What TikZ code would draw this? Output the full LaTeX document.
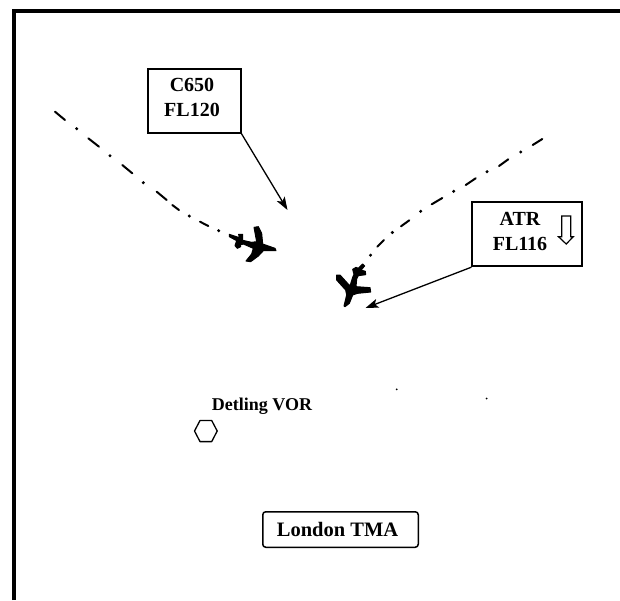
\documentclass[tikz,border=0pt]{standalone}
\usepackage{fontspec}
\setmainfont{Liberation Serif}
\usetikzlibrary{arrows.meta}
\tikzset{
  x=1pt,y=-1pt,
  callout/.style={draw=black,line width=1.7pt,rectangle,minimum width=#1,inner sep=0pt},
  boxlabel/.style={inner sep=0pt,align=center,font=\fontsize{20}{25}\selectfont\bfseries},
  pointer/.style={line width=1.3pt,-{Stealth[length=13pt,width=9pt,inset=3pt]}},
  trackdash/.style={line width=2pt,line cap=round},
  plane/.style={fill=black,draw=black,line width=1pt,line join=round},
}
\newcommand{\zmA}[2]{({180+#1/3},{180+#2/3})}
\begin{document}
\begin{tikzpicture}
\useasboundingbox (0,0) rectangle (620,600);
\fill[white] (0,0) rectangle (620,600);
% frame
\draw[line width=3.4pt,line cap=butt] (14,600) -- (14,11) -- (620,11);
% tracks: dashes
\foreach \a/\b/\c/\d in {55/111.7/65/120, 88.3/138.3/99/146.7, 122.3/165/132.3/173.3, 156.7/191.7/166.7/200, 172.3/205/179/210, 200/221.7/208.3/226,
  532.7/145/542.3/139, 499/166/508.3/159.3, 465.7/185/475.7/178.3, 431.7/204.3/442.3/198, 401/226.3/409.3/220.3, 377.3/246.7/384/240}
  \draw[trackdash] (\a,\b) -- (\c,\d);
% tracks: dots
\foreach \a/\b in {76.7/128.7, 110/155.7, 143.3/182.7, 189.3/216, 218.7/230.7,
  520.7/152, 487/171.7, 453.7/191.3, 420.7/211.3, 392.3/232.5, 370.5/255.2}
  \fill (\a,\b) circle (1.7pt);
% specks
\fill (396.7,389.3) circle (1pt);
\fill (486.7,398.5) circle (1pt);
% plane 1
\draw[plane] \zmA{148}{163} -- \zmA{178}{173} -- \zmA{176}{163} -- \zmA{188}{163} -- \zmA{188}{181} -- \zmA{215}{187} -- \zmA{230}{185} -- \zmA{222}{142} -- \zmA{235}{140} -- \zmA{245}{160} -- \zmA{248}{192} -- \zmA{285}{205} -- \zmA{288}{212} -- \zmA{250}{212} -- \zmA{235}{228} -- \zmA{212}{245} -- \zmA{198}{243} -- \zmA{215}{222} -- \zmA{220}{205} -- \zmA{190}{192} -- \zmA{180}{195} -- \zmA{182}{200} -- \zmA{172}{205} -- \zmA{165}{197} -- \zmA{170}{182} -- \zmA{148}{170} -- cycle;
% plane 2
\draw[plane] \zmA{548}{252} -- \zmA{554}{258} -- \zmA{543}{270} -- \zmA{556}{274} -- \zmA{557}{284} -- \zmA{535}{287} -- \zmA{530}{297} -- \zmA{528}{320} -- \zmA{570}{323} -- \zmA{572}{336} -- \zmA{532}{340} -- \zmA{518}{345} -- \zmA{508}{370} -- \zmA{495}{380} -- \zmA{492}{378} -- \zmA{500}{345} -- \zmA{497}{330} -- \zmA{470}{300} -- \zmA{470}{285} -- \zmA{480}{285} -- \zmA{510}{318} -- \zmA{518}{292} -- \zmA{522}{283} -- \zmA{518}{268} -- \zmA{528}{262} -- \zmA{535}{265} -- cycle;
% callouts
\node[callout=93pt,minimum height=64.3pt] (c650box) at (194.2,100.8) {};
\node[boxlabel] (c650) at (192,97.5) {C650\\FL120};
\node[callout=110pt,minimum height=64.6pt] (atrbox) at (527.3,234) {};
\node[boxlabel] (atr) at (520,231.5) {ATR\\FL116};
\coordinate (c650tip) at (287.5,210);
\coordinate (atrtip) at (365.5,308);
\draw[pointer] (c650box.south east) -- (c650tip);
\draw[pointer] (atrbox.south west) -- (atrtip);
% descent arrow
\draw[line width=1.2pt,line join=miter] (561.7,216) -- (570.7,216) -- (570.7,236.7) -- (573.3,236.7) -- (566.2,244) -- (558.5,236.7) -- (561.7,236.7) -- cycle;
% VOR
\draw[line width=1.3pt,line join=round] (194.5,431) -- (200,420.5) -- (211.7,420.5) -- (217.2,431) -- (211.7,441.6) -- (200,441.6) -- cycle;
\node[inner sep=0pt,font=\fontsize{18}{20}\selectfont\bfseries] (vor) at (262,406.5) {Detling VOR};
% TMA
\node[draw=black,line width=1.5pt,rounded corners=3pt,minimum width=155.5pt,minimum height=35.5pt,inner sep=0pt] (tma) at (340.5,529.5) {};
\node[inner sep=0pt,font=\fontsize{20.5}{24}\selectfont\bfseries] (tmalabel) at (337.5,529.5) {London TMA};
\end{tikzpicture}
\end{document}
